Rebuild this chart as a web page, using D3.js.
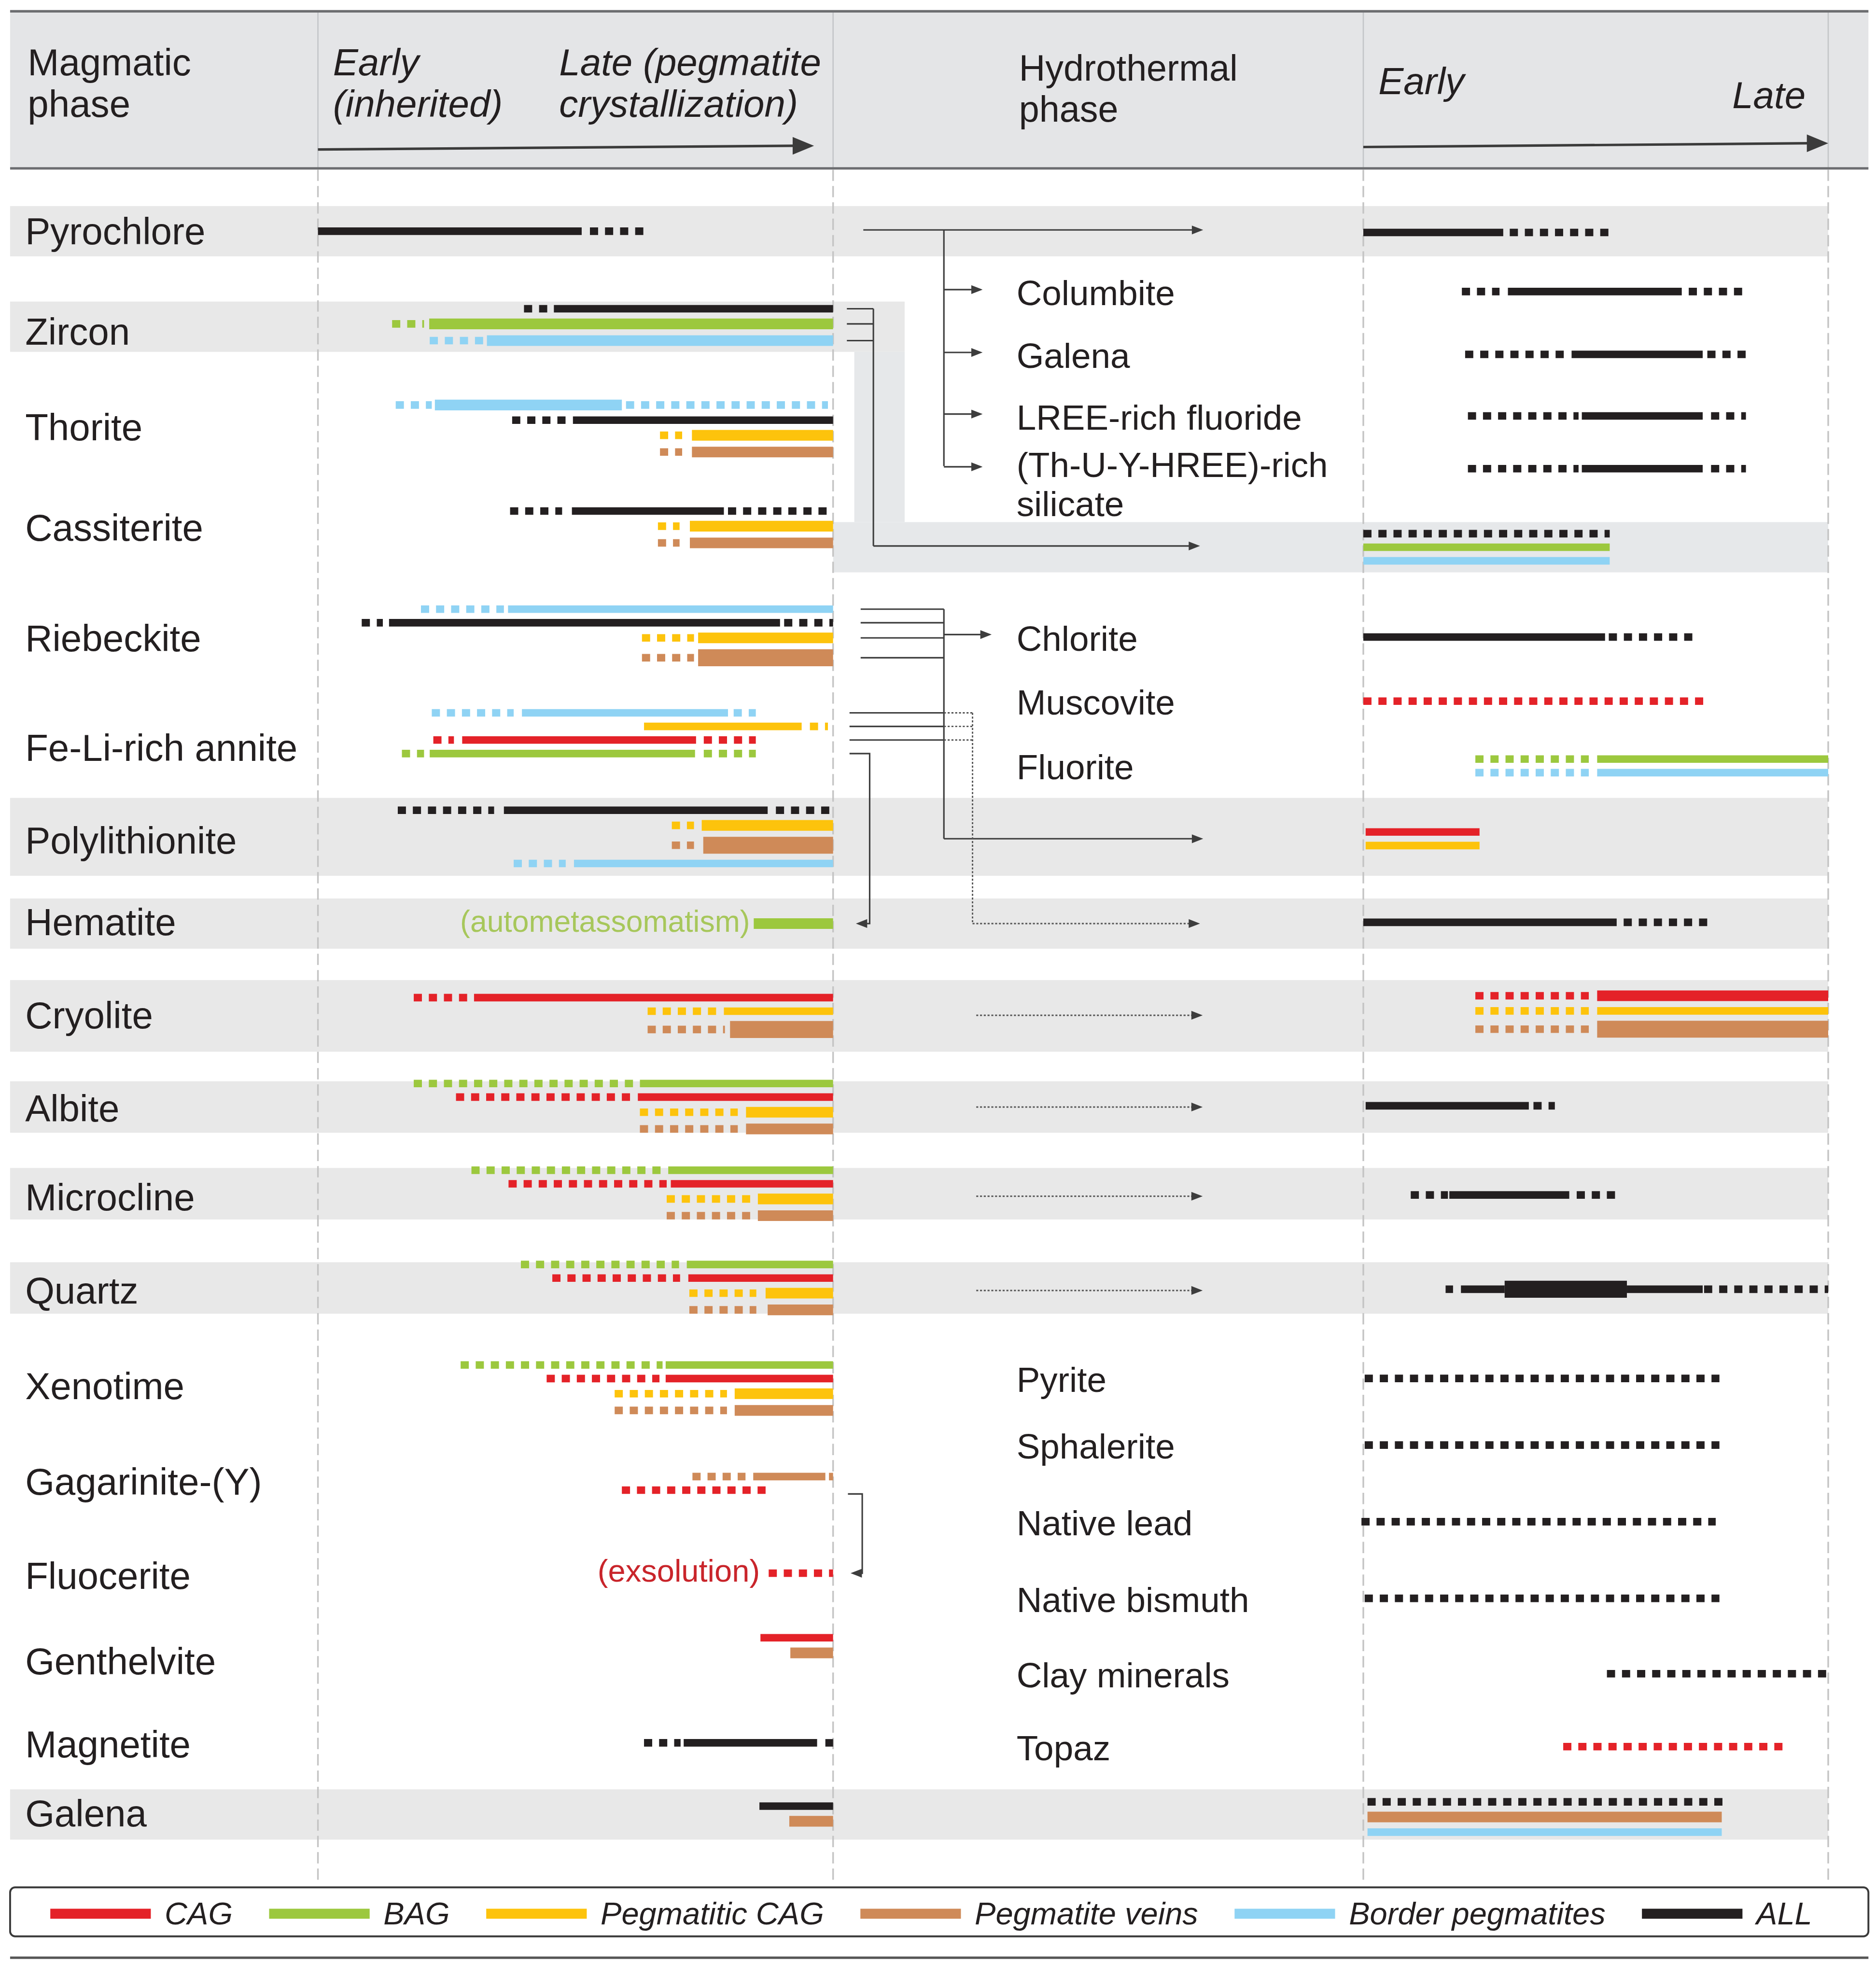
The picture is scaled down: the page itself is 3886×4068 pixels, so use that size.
<!DOCTYPE html>
<html>
<head>
<meta charset="utf-8">
<script src="https://cdnjs.cloudflare.com/ajax/libs/d3/7.8.5/d3.min.js"></script>
<style>
  body { margin: 0; background: #fff; }
  text { font-family: "Liberation Sans", Arial, sans-serif; fill: #231f20; }
</style>
</head>
<body>
<div id="chart"></div>
<script>
// ---- data ----
var series = ["CAG", "BAG", "PCAG", "PV", "BP", "ALL"];
var seriesLabels = ["CAG", "BAG", "Pegmatitic CAG", "Pegmatite veins", "Border pegmatites", "ALL"];
var seriesColors = ["#e42228", "#9cc83e", "#fdc30c", "#cf8a58", "#8fd3f4", "#231f20"];

var magmaticMinerals = ["Pyrochlore", "Zircon", "Thorite", "Cassiterite", "Riebeckite", "Fe-Li-rich annite",
  "Polylithionite", "Hematite", "Cryolite", "Albite", "Microcline", "Quartz", "Xenotime",
  "Gagarinite-(Y)", "Fluocerite", "Genthelvite", "Magnetite", "Galena"];

// hydrothermal-only minerals: [id, label]
var hydroMinerals = [
  ["Columbite", "Columbite"], ["Galena (hydrothermal)", "Galena"], ["LREE-rich fluoride", "LREE-rich fluoride"],
  ["(Th-U-Y-HREE)-rich silicate", "(Th-U-Y-HREE)-rich|silicate"], ["Chlorite", "Chlorite"],
  ["Muscovite", "Muscovite"], ["Fluorite", "Fluorite"], ["Pyrite", "Pyrite"], ["Sphalerite", "Sphalerite"],
  ["Native lead", "Native lead"], ["Native bismuth", "Native bismuth"], ["Clay minerals", "Clay minerals"],
  ["Topaz", "Topaz"]];

// [mineral, series, from, to, certainty, abundance]  (0 = early, 100 = late within a phase)
var magmaticBars = [
  ["Pyrochlore", "ALL", 0, 51.2, "solid", 1], ["Pyrochlore", "ALL", 52.8, 63.3, "dot", 1],
  ["Zircon", "ALL", 40, 44.6, "dot", 1], ["Zircon", "ALL", 45.8, 100, "solid", 1],
  ["Zircon", "BAG", 14.4, 20.6, "dot", 1], ["Zircon", "BAG", 21.6, 100, "solid", 2],
  ["Zircon", "BP", 21.7, 32.2, "dot", 1], ["Zircon", "BP", 32.8, 100, "solid", 2],
  ["Thorite", "BP", 15.1, 22.1, "dot", 1], ["Thorite", "BP", 22.7, 59, "solid", 2], ["Thorite", "BP", 59.8, 99, "dot", 1],
  ["Thorite", "ALL", 37.7, 48.1, "dot", 1], ["Thorite", "ALL", 49.5, 100, "solid", 1],
  ["Thorite", "PCAG", 66.4, 70.7, "dot", 1], ["Thorite", "PCAG", 72.6, 100, "solid", 2],
  ["Thorite", "PV", 66.4, 70.7, "dot", 1], ["Thorite", "PV", 72.6, 100, "solid", 2],
  ["Cassiterite", "ALL", 37.3, 47.4, "dot", 1], ["Cassiterite", "ALL", 49.3, 78.8, "solid", 1], ["Cassiterite", "ALL", 79.6, 100, "dot", 1],
  ["Cassiterite", "PCAG", 66, 70.2, "dot", 1], ["Cassiterite", "PCAG", 72.2, 100, "solid", 2],
  ["Cassiterite", "PV", 66, 70.2, "dot", 1], ["Cassiterite", "PV", 72.2, 100, "solid", 2],
  ["Riebeckite", "BP", 20, 36.1, "dot", 1], ["Riebeckite", "BP", 36.9, 100, "solid", 1],
  ["Riebeckite", "ALL", 8.5, 12.6, "dot", 1], ["Riebeckite", "ALL", 13.8, 89.7, "solid", 1], ["Riebeckite", "ALL", 90.5, 100, "dot", 1],
  ["Riebeckite", "PCAG", 62.9, 73, "dot", 1], ["Riebeckite", "PCAG", 73.8, 100, "solid", 2],
  ["Riebeckite", "PV", 62.9, 73, "dot", 1], ["Riebeckite", "PV", 73.8, 100, "solid", 3],
  ["Fe-Li-rich annite", "BP", 22.1, 38, "dot", 1], ["Fe-Li-rich annite", "BP", 39.6, 79.6, "solid", 1], ["Fe-Li-rich annite", "BP", 80.7, 85, "dot", 1],
  ["Fe-Li-rich annite", "PCAG", 63.3, 93.9, "solid", 1], ["Fe-Li-rich annite", "PCAG", 95.5, 99, "dot", 1],
  ["Fe-Li-rich annite", "CAG", 22.4, 26.4, "dot", 1], ["Fe-Li-rich annite", "CAG", 28, 73.4, "solid", 1], ["Fe-Li-rich annite", "CAG", 74.9, 85, "dot", 1],
  ["Fe-Li-rich annite", "BAG", 16.3, 20.6, "dot", 1], ["Fe-Li-rich annite", "BAG", 21.7, 73.2, "solid", 1], ["Fe-Li-rich annite", "BAG", 74.9, 85, "dot", 1],
  ["Polylithionite", "ALL", 15.5, 34.2, "dot", 1], ["Polylithionite", "ALL", 36.1, 87.3, "solid", 1], ["Polylithionite", "ALL", 88.9, 99.4, "dot", 1],
  ["Polylithionite", "PCAG", 68.7, 73, "dot", 1], ["Polylithionite", "PCAG", 74.5, 100, "solid", 2],
  ["Polylithionite", "PV", 68.7, 73, "dot", 1], ["Polylithionite", "PV", 74.8, 100, "solid", 3],
  ["Polylithionite", "BP", 38, 48.1, "dot", 1], ["Polylithionite", "BP", 49.7, 100, "solid", 1],
  ["Hematite", "BAG", 84.6, 100, "solid", 2],
  ["Cryolite", "CAG", 18.6, 29.1, "dot", 1], ["Cryolite", "CAG", 30.3, 100, "solid", 1],
  ["Cryolite", "PCAG", 64, 77.3, "dot", 1], ["Cryolite", "PCAG", 78.8, 100, "solid", 1],
  ["Cryolite", "PV", 64, 79, "dot", 1], ["Cryolite", "PV", 80, 100, "solid", 3],
  ["Albite", "BAG", 18.6, 61.3, "dot", 1], ["Albite", "BAG", 62.5, 100, "solid", 1],
  ["Albite", "CAG", 26.8, 60.6, "dot", 1], ["Albite", "CAG", 62.1, 100, "solid", 1],
  ["Albite", "PCAG", 62.5, 81.5, "dot", 1], ["Albite", "PCAG", 83.1, 100, "solid", 2],
  ["Albite", "PV", 62.5, 81.5, "dot", 1], ["Albite", "PV", 83.1, 100, "solid", 2],
  ["Microcline", "BAG", 29.8, 66.6, "dot", 1], ["Microcline", "BAG", 68, 100, "solid", 1],
  ["Microcline", "CAG", 37, 67.7, "dot", 1], ["Microcline", "CAG", 68.5, 100, "solid", 1],
  ["Microcline", "PCAG", 67.7, 83.9, "dot", 1], ["Microcline", "PCAG", 85.4, 100, "solid", 2],
  ["Microcline", "PV", 67.7, 83.9, "dot", 1], ["Microcline", "PV", 85.4, 100, "solid", 2],
  ["Quartz", "BAG", 39.4, 70.1, "dot", 1], ["Quartz", "BAG", 71.6, 100, "solid", 1],
  ["Quartz", "CAG", 45.5, 70.3, "dot", 1], ["Quartz", "CAG", 71.9, 100, "solid", 1],
  ["Quartz", "PCAG", 72.1, 85.1, "dot", 1], ["Quartz", "PCAG", 86.9, 100, "solid", 2],
  ["Quartz", "PV", 72.1, 85.1, "dot", 1], ["Quartz", "PV", 87.3, 100, "solid", 2],
  ["Xenotime", "BAG", 27.7, 66.9, "dot", 1], ["Xenotime", "BAG", 67.5, 100, "solid", 1],
  ["Xenotime", "CAG", 44.4, 66.3, "dot", 1], ["Xenotime", "CAG", 67.5, 100, "solid", 1],
  ["Xenotime", "PCAG", 57.6, 79.4, "dot", 1], ["Xenotime", "PCAG", 80.9, 100, "solid", 2],
  ["Xenotime", "PV", 57.6, 79.4, "dot", 1], ["Xenotime", "PV", 80.9, 100, "solid", 2],
  ["Gagarinite-(Y)", "PV", 72.7, 83, "dot", 1], ["Gagarinite-(Y)", "PV", 84.5, 98.5, "solid", 1], ["Gagarinite-(Y)", "PV", 99.2, 100, "dot", 1],
  ["Gagarinite-(Y)", "CAG", 59, 86.9, "dot", 1],
  ["Fluocerite", "CAG", 87.5, 100, "dot", 1],
  ["Genthelvite", "CAG", 85.9, 100, "solid", 1], ["Genthelvite", "PV", 91.7, 100, "solid", 2],
  ["Magnetite", "ALL", 63.3, 70.4, "dot", 1], ["Magnetite", "ALL", 71, 96.9, "solid", 1], ["Magnetite", "ALL", 98.5, 100, "dot", 1],
  ["Galena", "ALL", 85.7, 100, "solid", 1], ["Galena", "PV", 91.5, 100, "solid", 2]
];

var hydroBars = [
  ["Pyrochlore", "ALL", 0, 30.1, "solid", 1], ["Pyrochlore", "ALL", 31.5, 53, "dot", 1],
  ["Columbite", "ALL", 21.2, 29.3, "dot", 1], ["Columbite", "ALL", 31.1, 68.5, "solid", 1], ["Columbite", "ALL", 70, 81.6, "dot", 1],
  ["Galena (hydrothermal)", "ALL", 21.9, 43.4, "dot", 1], ["Galena (hydrothermal)", "ALL", 44.8, 73, "solid", 1], ["Galena (hydrothermal)", "ALL", 74, 82.3, "dot", 1],
  ["LREE-rich fluoride", "ALL", 22.5, 46.3, "dot", 1], ["LREE-rich fluoride", "ALL", 47, 73, "solid", 1], ["LREE-rich fluoride", "ALL", 74.8, 82.3, "dot", 1],
  ["(Th-U-Y-HREE)-rich silicate", "ALL", 22.5, 46.3, "dot", 1], ["(Th-U-Y-HREE)-rich silicate", "ALL", 47, 73, "solid", 1], ["(Th-U-Y-HREE)-rich silicate", "ALL", 74.8, 82.3, "dot", 1],
  ["Cassiterite", "ALL", 0, 53, "dot", 1], ["Cassiterite", "BAG", 0, 53, "solid", 1], ["Cassiterite", "BP", 0, 53, "solid", 1],
  ["Chlorite", "ALL", 0, 52, "solid", 1], ["Chlorite", "ALL", 52.8, 70.8, "dot", 1],
  ["Muscovite", "CAG", 0, 73.7, "dot", 1],
  ["Fluorite", "BAG", 24.1, 48.5, "dot", 1], ["Fluorite", "BAG", 50.3, 100, "solid", 1],
  ["Fluorite", "BP", 24.1, 48.5, "dot", 1], ["Fluorite", "BP", 50.3, 100, "solid", 1],
  ["Polylithionite", "CAG", 0.5, 25, "solid", 1], ["Polylithionite", "PCAG", 0.5, 25, "solid", 1],
  ["Hematite", "ALL", 0, 54.5, "solid", 1], ["Hematite", "ALL", 56, 75, "dot", 1],
  ["Cryolite", "CAG", 24.1, 48.5, "dot", 1], ["Cryolite", "CAG", 50.3, 100, "solid", 2],
  ["Cryolite", "PCAG", 24.1, 48.5, "dot", 1], ["Cryolite", "PCAG", 50.3, 100, "solid", 1],
  ["Cryolite", "PV", 24.1, 48.5, "dot", 1], ["Cryolite", "PV", 50.3, 100, "solid", 3],
  ["Albite", "ALL", 0.5, 35.6, "solid", 1], ["Albite", "ALL", 36.6, 41.2, "dot", 1],
  ["Microcline", "ALL", 10.2, 18.2, "dot", 1], ["Microcline", "ALL", 18.5, 44.3, "solid", 1], ["Microcline", "ALL", 45.9, 54.2, "dot", 1],
  ["Quartz", "ALL", 17.7, 19.3, "dot", 1], ["Quartz", "ALL", 21, 30.4, "solid", 1], ["Quartz", "ALL", 30.4, 56.7, "solid", 3],
  ["Quartz", "ALL", 56.7, 73, "solid", 1], ["Quartz", "ALL", 73.3, 100, "dot", 1],
  ["Pyrite", "ALL", 0.3, 76.6, "dot", 1],
  ["Sphalerite", "ALL", 0.3, 76.6, "dot", 1],
  ["Native lead", "ALL", -0.4, 75.8, "dot", 1],
  ["Native bismuth", "ALL", 0.3, 76.6, "dot", 1],
  ["Clay minerals", "ALL", 52.4, 100, "dot", 1],
  ["Topaz", "CAG", 43, 90.6, "dot", 1],
  ["Galena", "ALL", 0.9, 77.3, "dot", 1], ["Galena", "PV", 0.9, 77.1, "solid", 2], ["Galena", "BP", 0.9, 77.1, "solid", 1]
];

// ---- layout ----
var W = 1493, H = 1563;
var magRowY = d3.scaleOrdinal(magmaticMinerals,
  [184, 259, 341, 420, 506, 583.5, 666, 735, 808.5, 881, 950, 1025, 1105, 1180.5, 1252, 1310, 1387, 1444]);
var magLabelY = d3.scaleOrdinal(magmaticMinerals,
  [184, 264, 340, 420, 508, 595, 669, 734, 808, 882, 953, 1027, 1103, 1179, 1254, 1322, 1388, 1443]);
var hydroRowY = d3.scaleOrdinal(
  ["Pyrochlore", "Columbite", "Galena (hydrothermal)", "LREE-rich fluoride", "(Th-U-Y-HREE)-rich silicate",
   "Cassiterite", "Chlorite", "Muscovite", "Fluorite", "Polylithionite", "Hematite", "Cryolite", "Albite",
   "Microcline", "Quartz", "Pyrite", "Sphalerite", "Native lead", "Native bismuth", "Clay minerals", "Topaz", "Galena"],
  [185, 232, 282, 331, 373, 435.5, 507, 558, 609.5, 667.5, 734, 807, 880, 951, 1026, 1097, 1150, 1211, 1272, 1332, 1390, 1446]);

var xMag = d3.scaleLinear().domain([0, 100]).range([253, 663]);
var xMid = d3.scaleLinear().domain([0, 100]).range([663, 1085]);
var xHyd = d3.scaleLinear().domain([0, 100]).range([1085, 1455]);
var color = d3.scaleOrdinal(series, seriesColors);
var thick = d3.scaleOrdinal([1, 2, 3], [6, 8.5, 13.5]);
var laneGap = 4.8;

var svg = d3.select("#chart").append("svg")
  .attr("width", 3886).attr("height", 4068)
  .attr("viewBox", "0 0 " + W + " " + H);

//Header box
var header = svg.append("g");
header.append("rect").attr("x", 8).attr("y", 9).attr("width", 1479).attr("height", 125).attr("fill", "#e4e5e7");
[253, 663, 1085, 1455].forEach(function(x) {
  header.append("line").attr("x1", x).attr("x2", x).attr("y1", 9).attr("y2", 134)
    .attr("stroke", "#c3c5c8").attr("stroke-width", 1);
});
header.append("line").attr("x1", 8).attr("x2", 1487).attr("y1", 9).attr("y2", 9).attr("stroke", "#6d6e71").attr("stroke-width", 2);
header.append("line").attr("x1", 8).attr("x2", 1487).attr("y1", 134).attr("y2", 134).attr("stroke", "#6d6e71").attr("stroke-width", 2);

function headText(x, y, txt, size, italic, anchor) {
  header.append("text").attr("x", x).attr("y", y).text(txt)
    .attr("font-size", size).attr("font-style", italic ? "italic" : "normal")
    .attr("text-anchor", anchor || "start");
}
headText(22, 60, "Magmatic", 30); headText(22, 93, "phase", 30);
headText(265, 60, "Early", 30, true); headText(265, 93, "(inherited)", 30, true);
headText(445, 60, "Late (pegmatite", 30, true); headText(445, 93, "crystallization)", 30, true);
headText(811, 64, "Hydrothermal", 29); headText(811, 97, "phase", 29);
headText(1097, 75, "Early", 30, true);
headText(1437, 86, "Late", 30, true, "end");

function bigArrow(x1, y1, x2, y2) {
  header.append("line").attr("x1", x1).attr("y1", y1).attr("x2", x2 - 14).attr("y2", y2)
    .attr("stroke", "#3b3b3b").attr("stroke-width", 2);
  header.append("path").attr("d", "M" + x2 + "," + y2 + "L" + (x2 - 17) + "," + (y2 - 7) + "L" + (x2 - 17) + "," + (y2 + 7) + "Z")
    .attr("fill", "#3b3b3b");
}
bigArrow(xMag(0), 119, xMag(96.3), 116);
bigArrow(xHyd(0), 117, xHyd(100), 114);

//Row bands
var bands = svg.append("g");
var bandRows = [["Pyrochlore", 20], ["Zircon", 20], ["Polylithionite", 31], ["Hematite", 20], ["Cryolite", 28.5],
  ["Albite", 20.5], ["Microcline", 20.5], ["Quartz", 20.5], ["Galena", 20]];
bands.selectAll("rect.band").data(bandRows).enter().append("rect")
  .attr("class", "band")
  .attr("x", 8)
  .attr("y", function(d) { return magRowY(d[0]) - d[1] + (d[0] == "Zircon" ? 1 : 0); })
  .attr("width", function(d) { return (d[0] == "Zircon" ? xMid(13.5) : xHyd(100)) - 8; })
  .attr("height", function(d) { return d[1] * 2; })
  .attr("fill", "#e8e8e8");
// zircon -> cassiterite link band
var cy = hydroRowY("Cassiterite");
bands.append("rect").attr("x", xMid(4)).attr("y", magRowY("Zircon") + 21).attr("width", xMid(13.5) - xMid(4))
  .attr("height", cy - 20 - magRowY("Zircon") - 21).attr("fill", "#e6e8ea");
bands.append("rect").attr("x", xMid(0)).attr("y", cy - 20).attr("width", xHyd(100) - xMid(0)).attr("height", 40)
  .attr("fill", "#e6e8ea");

//Phase boundaries
[253, 663, 1085, 1455].forEach(function(x) {
  svg.append("line").attr("x1", x).attr("x2", x).attr("y1", 135).attr("y2", 1500)
    .attr("stroke", "#c4c4c4").attr("stroke-width", 1.3).attr("stroke-dasharray", "9,4");
});

//Bars
var laneYs = {};
function drawBars(bars, xScale, rowY, phase) {
  var g = svg.append("g");
  d3.group(bars, function(d) { return d[0]; }).forEach(function(segs, row) {
    var lanes = Array.from(new Set(segs.map(function(d) { return d[1]; })));
    var th = lanes.map(function(s) {
      return d3.max(segs.filter(function(d) { return d[1] == s; }), function(d) { return thick(d[5]); });
    });
    var total = d3.sum(th) + laneGap * (lanes.length - 1);
    var y = rowY(row) - total / 2;
    var ly = {};
    lanes.forEach(function(s, i) { ly[s] = y + th[i] / 2; y += th[i] + laneGap; });
    laneYs[phase + "|" + row] = lanes.map(function(s) { return ly[s]; });
    g.selectAll(null).data(segs).enter().append("line")
      .attr("x1", function(d) { return xScale(d[2]); })
      .attr("x2", function(d) { return xScale(d[3]); })
      .attr("y1", function(d) { return ly[d[1]]; })
      .attr("y2", function(d) { return ly[d[1]]; })
      .attr("stroke", function(d) { return color(d[1]); })
      .attr("stroke-width", function(d) { return thick(d[5]); })
      .attr("stroke-dasharray", function(d) { return d[4] == "dot" ? "6.5,5.5" : null; });
  });
}
drawBars(magmaticBars, xMag, magRowY, "mag");
drawBars(hydroBars, xHyd, hydroRowY, "hyd");

//Labels
svg.append("g").selectAll("text").data(magmaticMinerals).enter().append("text")
  .attr("x", 20).attr("y", function(d) { return magLabelY(d); })
  .attr("dominant-baseline", "central").attr("font-size", 30)
  .text(function(d) { return d; });

var hl = svg.append("g");
hydroMinerals.forEach(function(m) {
  var lines = m[1].split("|");
  lines.forEach(function(t, i) {
    hl.append("text").attr("x", xMid(34.6)).attr("y", hydroRowY(m[0]) + (lines.length > 1 ? -3 : 1) + i * 31)
      .attr("dominant-baseline", "central").attr("font-size", 28).text(t);
  });
});

svg.append("text").attr("x", xMag(84.6) - 3).attr("y", magRowY("Hematite") - 2)
  .attr("dominant-baseline", "central").attr("text-anchor", "end").attr("font-size", 24)
  .style("fill", "#a7c75b").text("(autometassomatism)");
svg.append("text").attr("x", xMag(87.5) - 7).attr("y", magRowY("Fluocerite") - 2)
  .attr("dominant-baseline", "central").attr("text-anchor", "end").attr("font-size", 25)
  .style("fill", "#c9252b").text("(exsolution)");

//Connectors
var conn = svg.append("g");
function seg(d, dotted) {
  conn.append("path").attr("d", d).attr("fill", "none").attr("stroke", dotted ? "#555" : "#3d3d3d")
    .attr("stroke-width", dotted ? 1.1 : 1.2).attr("stroke-dasharray", dotted ? "1.6,1.4" : null);
}
function head(x, y, dir) {
  var s = dir == "left" ? 1 : -1;
  conn.append("path").attr("d", "M" + x + "," + y + "L" + (x + s * 9) + "," + (y - 3.5) + "L" + (x + s * 9) + "," + (y + 3.5) + "Z")
    .attr("fill", "#3d3d3d");
}
function arrowR(x1, x2, y, dotted) { seg("M" + x1 + "," + y + "H" + (x2 - 6), dotted); head(x2, y, "right"); }

// pyrochlore branches
var py = hydroRowY("Pyrochlore") - 2;
arrowR(xMid(5.7), xMid(69.8), py);
var tuy = hydroRowY("(Th-U-Y-HREE)-rich silicate") - 2;
seg("M" + xMid(20.9) + "," + py + "V" + tuy);
["Columbite", "Galena (hydrothermal)", "LREE-rich fluoride", "(Th-U-Y-HREE)-rich silicate"].forEach(function(r) {
  arrowR(xMid(20.9), xMid(28.2), hydroRowY(r) - 1.5);
});
// zircon -> cassiterite
var zl = laneYs["mag|Zircon"];
zl.forEach(function(y) { seg("M" + xMid(2.6) + "," + y + "H" + xMid(7.6)); });
seg("M" + xMid(7.6) + "," + zl[0] + "V" + (cy - 1));
arrowR(xMid(7.6), xMid(69.2), cy - 1);
// riebeckite + annite -> chlorite, polylithionite
var rl = laneYs["mag|Riebeckite"];
var polyY = hydroRowY("Polylithionite");
rl.forEach(function(y) { seg("M" + xMid(5.2) + "," + y + "H" + xMid(20.9)); });
seg("M" + xMid(20.9) + "," + rl[0] + "V" + polyY);
arrowR(xMid(20.9), xMid(29.9), hydroRowY("Chlorite") - 2);
arrowR(xMid(20.9), xMid(69.8), polyY);
var al = laneYs["mag|Fe-Li-rich annite"];
var hemY = hydroRowY("Hematite") + 1;
al.slice(0, 3).forEach(function(y) {
  seg("M" + xMid(3.1) + "," + y + "H" + xMid(20.9));
  seg("M" + xMid(20.9) + "," + y + "H" + xMid(26.3), true);
});
seg("M" + xMid(26.3) + "," + al[0] + "V" + hemY, true);
arrowR(xMid(26.3), xMid(69.2), hemY, true);
seg("M" + xMid(3.1) + "," + al[3] + "H" + xMid(6.9) + "V" + hemY + "H" + xMid(5.5));
head(xMid(4.3), hemY, "left");
// magmatic minerals continuing
["Cryolite", "Albite", "Microcline", "Quartz"].forEach(function(r) {
  arrowR(xMid(27), xMid(69.7), hydroRowY(r) + 1, true);
});
// gagarinite -> fluocerite
var gy = laneYs["mag|Gagarinite-(Y)"][1] + 3;
var fy = magRowY("Fluocerite");
seg("M" + xMid(2.8) + "," + gy + "H" + xMid(5.5) + "V" + fy + "H" + xMid(4.3));
head(xMid(3.3), fy, "left");

//Legend
var lg = svg.append("g");
lg.append("rect").attr("x", 8).attr("y", 1502).attr("width", 1479).attr("height", 39).attr("rx", 4)
  .attr("fill", "#fff").attr("stroke", "#3a3a3a").attr("stroke-width", 1.5);
var lx = 40;
series.forEach(function(s, i) {
  lg.append("line").attr("x1", lx).attr("x2", lx + 80).attr("y1", 1523).attr("y2", 1523)
    .attr("stroke", color(s)).attr("stroke-width", 8);
  var t = lg.append("text").attr("x", lx + 91).attr("y", 1523).attr("dominant-baseline", "central")
    .attr("font-size", 25).attr("font-style", "italic").text(seriesLabels[i]);
  lx += 91 + t.node().getComputedTextLength() + 29;
});
svg.append("line").attr("x1", 8).attr("x2", 1487).attr("y1", 1558).attr("y2", 1558)
  .attr("stroke", "#555").attr("stroke-width", 2);
</script>
</body>
</html>
